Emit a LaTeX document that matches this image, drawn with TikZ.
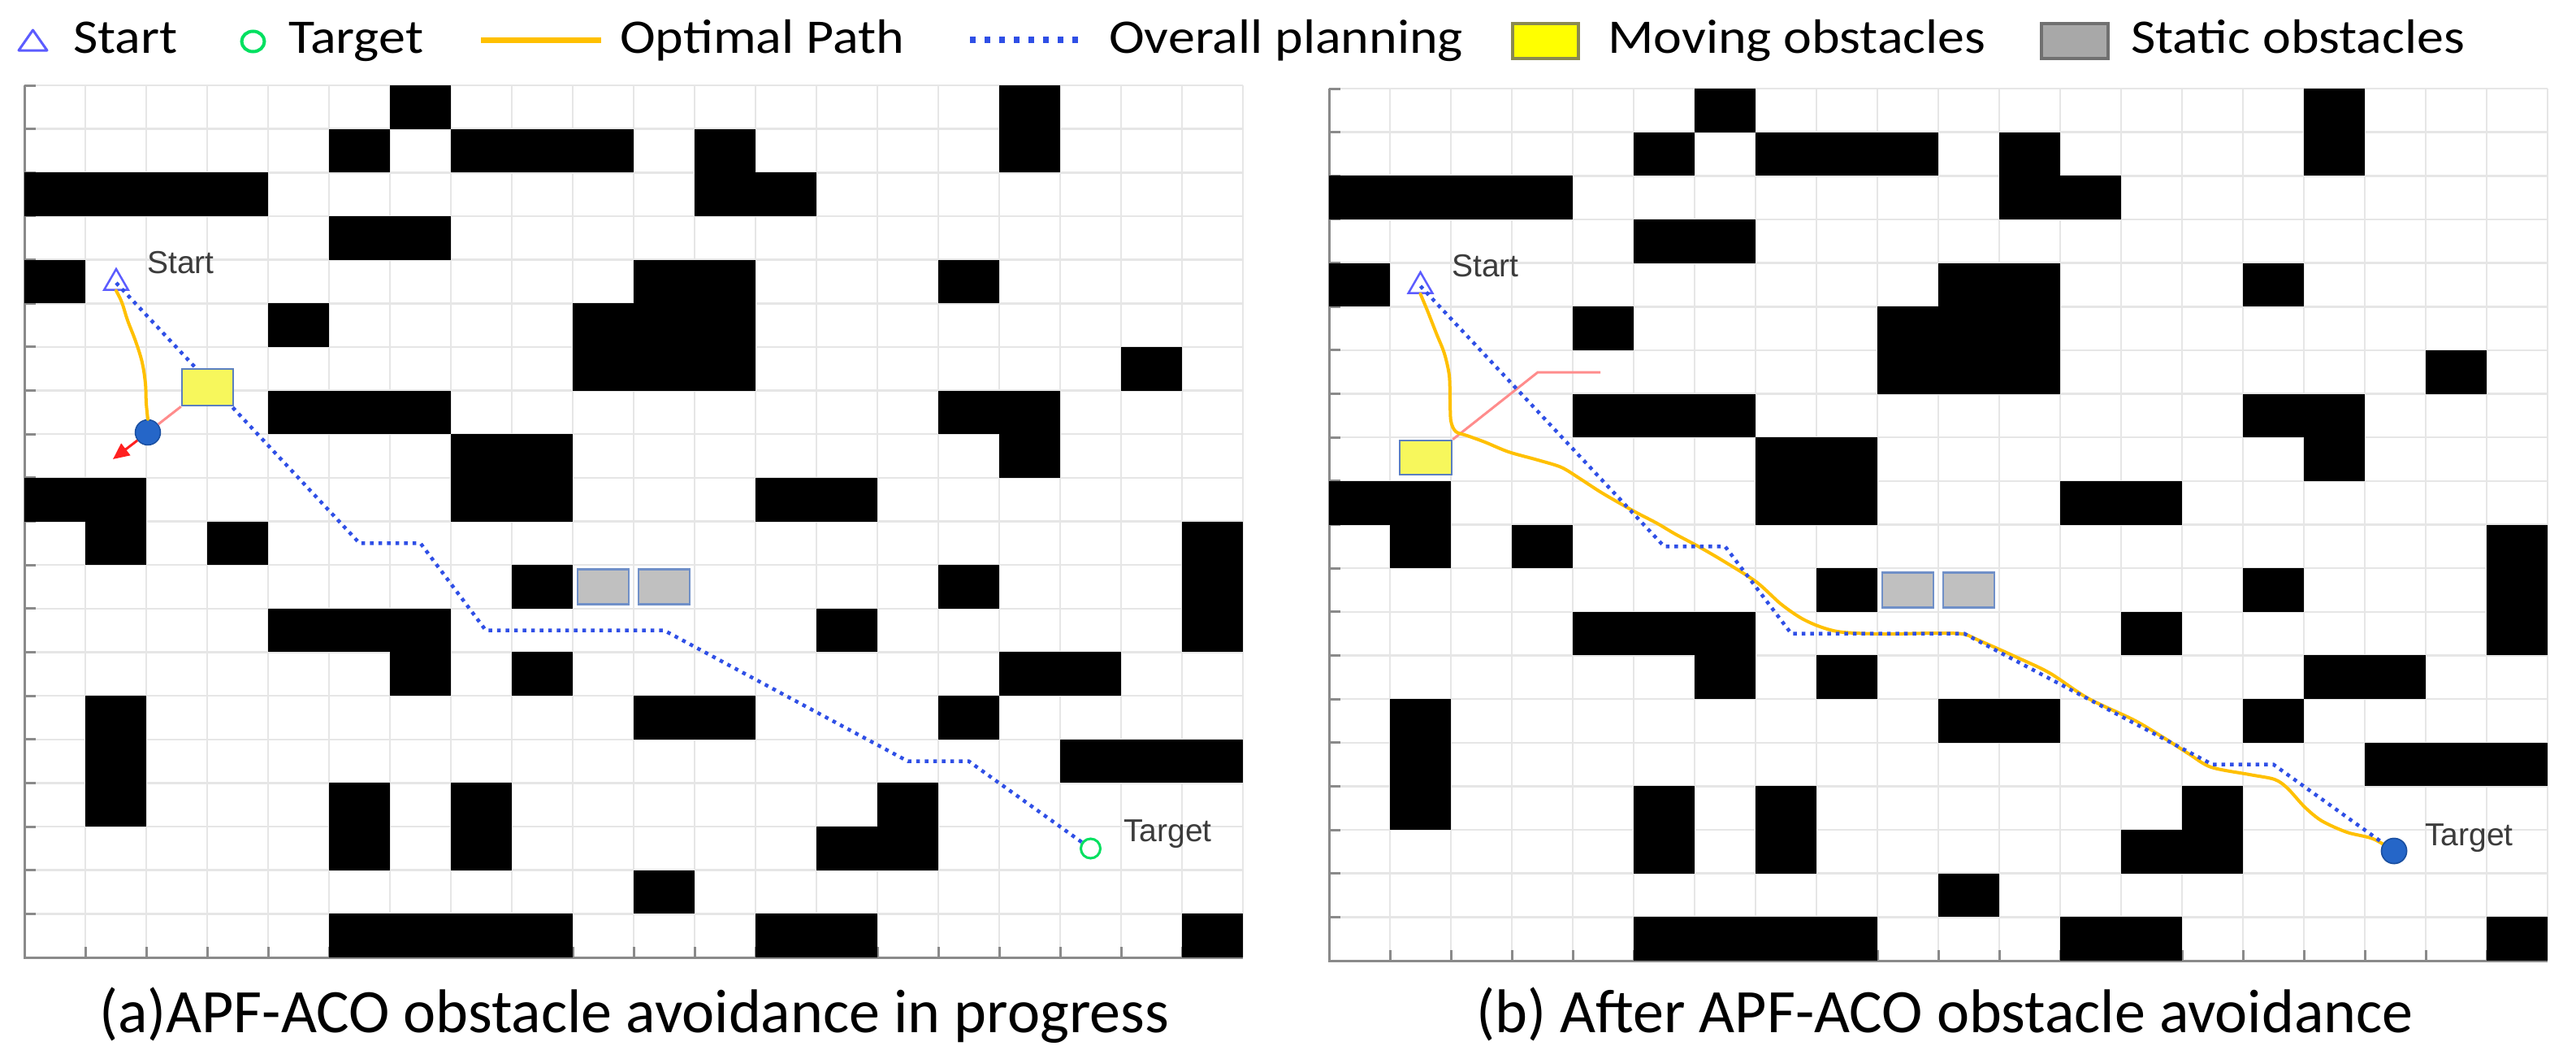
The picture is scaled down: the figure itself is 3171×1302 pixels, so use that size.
\documentclass[tikz,border=0pt]{standalone}
\usepackage{fontspec}
\usepackage{graphicx}
\setmainfont{Carlito}
\newfontfamily\lblfont{Liberation Sans}
\usetikzlibrary{shapes.geometric,arrows.meta}
\definecolor{gridc}{HTML}{E6E6E6}
\definecolor{axisc}{HTML}{8A8A8A}
\definecolor{startblue}{HTML}{5C5CFF}
\definecolor{targetgreen}{HTML}{00E060}
\definecolor{optc}{HTML}{FFC000}
\definecolor{planc}{HTML}{2F4FE6}
\definecolor{movfill}{HTML}{F7F75C}
\definecolor{movedge}{HTML}{5B7FC0}
\definecolor{statfill}{HTML}{C0C0C0}
\definecolor{statedge}{HTML}{7090C8}
\definecolor{robotfill}{HTML}{2566C8}
\definecolor{robotedge}{HTML}{1A4FA0}
\definecolor{pinkc}{HTML}{FF8C8C}
\definecolor{arrowred}{HTML}{FF2020}
\definecolor{lblc}{HTML}{3C3C3C}
\definecolor{legyel}{HTML}{FFFF00}
\definecolor{legyeledge}{HTML}{8A8A50}
\definecolor{leggrey}{HTML}{A8A8A8}
\definecolor{leggreyedge}{HTML}{707070}
\tikzset{
  gridline/.style={draw=gridc, line width=2.5pt},
  axisline/.style={draw=axisc, line width=3pt},
  obst/.style={fill=black},
  statbox/.style={fill=statfill, draw=statedge, line width=2.5pt},
  movbox/.style={rectangle, fill=movfill, draw=movedge, line width=2.5pt, inner sep=0pt},
  starttri/.style={regular polygon, regular polygon sides=3, draw=startblue, line width=2.5pt, minimum size=34pt, inner sep=0pt},
  targetcirc/.style={circle, draw=targetgreen, line width=3pt, minimum size=24pt, inner sep=0pt},
  robot/.style={circle, fill=robotfill, draw=robotedge, line width=1.5pt, minimum size=31pt, inner sep=0pt},
  optpath/.style={draw=optc, line width=4pt, line cap=round, line join=round},
  plan/.style={draw=planc, line width=4.5pt, dash pattern=on 4.5pt off 6pt},
  repl/.style={draw=pinkc, line width=3pt},
  forcearrow/.style={draw=arrowred, line width=3pt, -{Triangle[length=20pt,width=18pt]}},
  maplbl/.style={anchor=base west, inner sep=0pt, text=lblc, font=\lblfont\fontsize{39}{42}\selectfont},
  legtext/.style={anchor=base west, inner sep=0pt, font=\fontsize{66}{70}\selectfont},
  captext/.style={anchor=base west, inner sep=0pt, font=\fontsize{76}{80}\selectfont},
}
\newcommand{\gridpanel}[2]{%
\begin{scope}[shift={(#1pt,-#2pt)},x=75pt,y=-53.65pt]
\foreach \i in {0,...,20}{\draw[gridline] (\i,0) -- (\i,20);}
\foreach \j in {0,...,20}{\draw[gridline] (0,\j) -- (20,\j);}
\foreach \j in {0,...,19}{\draw[axisline] (0,\j) -- ++(14pt,0pt);}
\foreach \i in {1,...,19}{\draw[axisline] (\i,20) -- ++(0pt,13pt);}
\draw[axisline] (0,0) -- (0,20) -- (20,20);
\foreach \xa/\ya/\xb/\yb in {6/0/6/0, 5/1/5/1, 7/1/9/1, 11/1/11/2, 12/2/12/2, 16/0/16/1, 0/2/3/2, 5/3/6/3, 0/4/0/4, 10/4/11/4, 9/5/11/6, 4/5/4/5, 15/4/15/4, 18/6/18/6, 4/7/6/7, 15/7/16/7, 16/8/16/8, 7/8/8/9, 0/9/1/9, 1/10/1/10, 3/10/3/10, 12/9/13/9, 19/10/19/12, 8/11/8/11, 15/11/15/11, 4/12/6/12, 6/13/6/13, 13/12/13/12, 8/13/8/13, 16/13/17/13, 1/14/1/16, 10/14/11/14, 15/14/15/14, 17/15/19/15, 5/16/5/17, 7/16/7/17, 14/16/14/17, 13/17/13/17, 10/18/10/18, 5/19/8/19, 12/19/13/19, 19/19/19/19}{\fill[obst] (\xa,\ya) rectangle (\xb+1,\yb+1);}
\foreach \xa in {9,10}{\draw[statbox] (\xa+0.08,11.1) rectangle (\xa+0.92,11.9);}
\end{scope}}
\begin{document}
\begin{tikzpicture}[x=1pt,y=-1pt]
\fill[white] (0,0) rectangle (3171,1302);
\useasboundingbox (0,0) rectangle (3171,1302);
% legend
\draw[draw=startblue, line width=3pt, line join=round] (23,62) -- (40.5,37) -- (58,62) -- cycle;
\node[legtext] (lgStart) at (90,65) {\scalebox{1}[0.9]{Start}};
\draw[draw=targetgreen, line width=4pt] (311.5,51) ellipse (14pt and 12.5pt);
\node[legtext] (lgTarget) at (355,65) {\scalebox{1}[0.9]{Target}};
\draw[draw=optc, line width=7pt] (592,49) -- (740,49);
\node[legtext] (lgOpt) at (763,65) {\scalebox{1}[0.9]{Optimal Path}};
\draw[draw=planc, line width=8pt, dash pattern=on 7pt off 11pt] (1194,49) -- (1337,49);
\node[legtext] (lgPlan) at (1365,65) {\scalebox{1}[0.9]{Overall planning}};
\draw[fill=legyel, draw=legyeledge, line width=4pt] (1862,29) rectangle (1943,72);
\node[legtext] (lgMov) at (1979,65) {\scalebox{1}[0.9]{Moving obstacles}};
\draw[fill=leggrey, draw=leggreyedge, line width=4pt] (2513,29) rectangle (2595,72);
\node[legtext] (lgStat) at (2623,65) {\scalebox{1}[0.9]{Static obstacles}};
% panels
\gridpanel{30}{105}
\gridpanel{1636}{109}
% ---- panel (a)
\node[starttri] (startA) at (143,348) {};
\node[maplbl] (lblStartA) at (181,336) {Start};
\node[targetcirc] (targetA) at (1342.5,1044) {};
\node[maplbl] (lblTargetA) at (1383,1035) {Target};
\draw[plan] (startA.center) -- (442.5,668.3) -- (517.5,668.3) -- (598,775.6) -- (817.5,775.6) -- (1117.5,936.6) -- (1192.5,936.6) -- (targetA);
\node[movbox, minimum width=63pt, minimum height=45pt] (boxA) at (255.5,476.5) {};
\node[robot] (robotA) at (182,532) {};
\coordinate (forceA) at (139,565);
\draw[optpath] plot[smooth, tension=0.6] coordinates {(startA.south) (150,372) (157,394) (167,420) (175,446) (179,472) (180,496) (robotA.north)};
\draw[repl] (boxA.south west) -- (robotA);
\draw[forcearrow] (robotA) -- (forceA);
% ---- panel (b)
\node[starttri] (startB) at (1748.5,352) {};
\node[maplbl] (lblStartB) at (1787,340) {Start};
\node[maplbl] (lblTargetB) at (2985,1040) {Target};
\node[movbox, minimum width=64pt, minimum height=42pt] (boxB) at (1755,563) {};
\node[robot] (robotB) at (2947,1047) {};
\coordinate (pinkBend) at (1893,458);
\coordinate (pinkEnd) at (1970,458);
\draw[repl] (boxB.north east) -- (pinkBend) -- (pinkEnd);
\draw[optpath] plot[smooth, tension=0.5] coordinates {(startB.south) (1757,382) (1768,410) (1778,435) (1784,462) (1785,492) (1786,518) (1792,531) (1806,536) (1828,544) (1857,556) (1893,566) (1922,575) (1945,589) (1968,604) (1990,617) (2015,631) (2040,644) (2062,657) (2090,672) (2121,690) (2162,716) (2192,743) (2218,761) (2243,772) (2269,778) (2320,780) (2380,779) (2416,780) (2434,787) (2481,808) (2523,828) (2570,859) (2627,886) (2664,908) (2695,928) (2722,944) (2769,953) (2800,959) (2816,970) (2837,993) (2858,1010) (2889,1024) (2921,1032) (robotB)};
\draw[plan] (startB.center) -- (2048.5,672.3) -- (2123.5,672.3) -- (2205,779.6) -- (2418,779.6) -- (2723.5,940.6) -- (2798.5,940.6) -- (robotB);
\node[robot] (robotBtop) at (robotB) {};
% captions
\node[captext] (capA) at (122,1270) {(a)APF-ACO obstacle avoidance in progress};
\node[captext] (capB) at (1817,1270) {(b) After APF-ACO obstacle avoidance};
\end{tikzpicture}
\end{document}
